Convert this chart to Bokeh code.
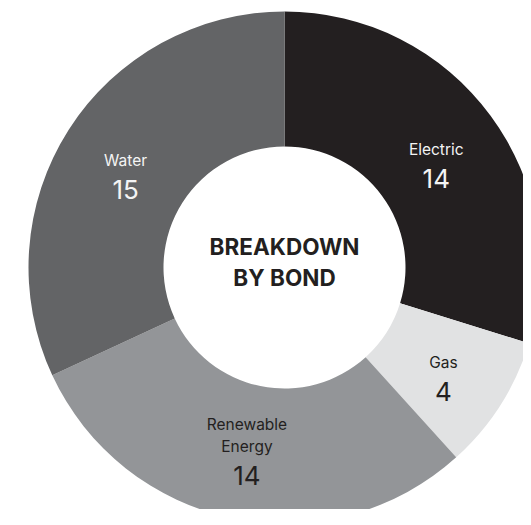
import numpy as np
from bokeh.plotting import figure
from bokeh.models import Range1d, ColumnDataSource
from bokeh.core.properties import value
from bokeh.embed import file_html
from bokeh.resources import INLINE

# ---- data ----
categories = ["Electric", "Gas", "Renewable\nEnergy", "Water"]
values = [14, 4, 14, 15]
colors = ["#231f20", "#e1e2e3", "#939598", "#636466"]
label_colors = ["#f4f4f4", "#231f20", "#231f20", "#f4f4f4"]
center_title = ["BREAKDOWN", "BY BOND"]

W, H = 523, 509
cx, cy = 284, H - 267      # donut centre (px in plot)
R_OUT, R_IN = 256, 121

vals = np.array(values, dtype=float)
frac = vals / vals.sum()
cum = np.concatenate([[0], np.cumsum(frac)])
start = np.pi / 2 - 2 * np.pi * cum[:-1]
end = np.pi / 2 - 2 * np.pi * cum[1:]
mid = (start + end) / 2

p = figure(width=W, height=H, output_backend="svg", toolbar_location=None,
           x_range=Range1d(0, W), y_range=Range1d(0, H), min_border=0,
           outline_line_color=None, background_fill_color="white",
           border_fill_color="white")
p.axis.visible = False
p.grid.visible = False

src = ColumnDataSource(dict(start=start, end=end, color=colors))
p.annular_wedge(x=cx, y=cy, inner_radius=R_IN, outer_radius=R_OUT,
                start_angle="start", end_angle="end", direction="clock",
                fill_color="color", line_color=None, source=src)

# labels
r_lab = (R_OUT + R_IN) / 2
nx, ny, nt, nc = [], [], [], []
vx, vy, vt, vc = [], [], [], []
for cat, v, a, col in zip(categories, values, mid, label_colors):
    mx = cx + r_lab * np.cos(a)
    my = cy + r_lab * np.sin(a)
    lines = cat.split("\n")
    for i, ln in enumerate(reversed(lines)):
        nx.append(mx)
        ny.append(my + 6 + 22 * i)
        nt.append(ln)
        nc.append(col)
    vx.append(mx)
    vy.append(my - 23)
    vt.append(str(v))
    vc.append(col)

p.text(x=nx, y=ny, text=nt, text_color=nc, text_font=value("Inter"),
       text_font_size="15.5px", text_align="center", text_baseline="alphabetic")
p.text(x=vx, y=vy, text=vt, text_color=vc, text_font=value("Inter"),
       text_font_size="26px", text_align="center", text_baseline="alphabetic")

# centre title
p.text(x=[cx, cx], y=[cy + 21, cy - 10], text=center_title, text_color="#231f20",
       text_font=value("Inter"), text_font_size="22.5px", text_font_style="bold",
       text_align="center", text_baseline="alphabetic")

open("out.html", "w").write(file_html(p, INLINE))
